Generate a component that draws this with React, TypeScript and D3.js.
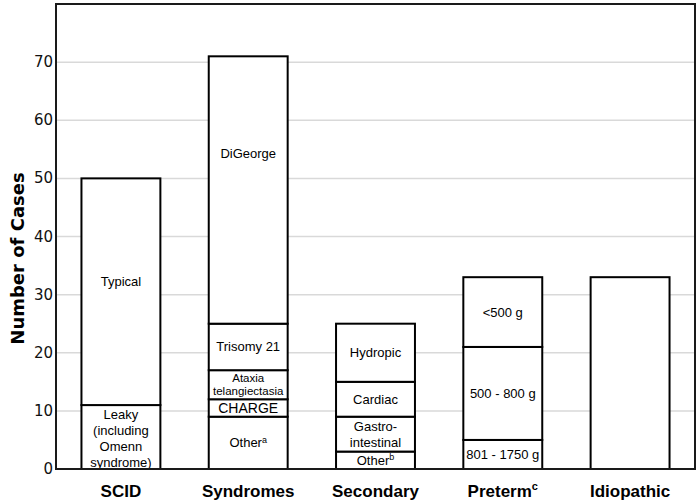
import * as d3 from "d3";

// categories on the x axis
const categories = ["SCID", "Syndromes", "Secondary", "Preterm", "Idiopathic"];
const categorySup = ["", "", "", "c", ""];

// stacked counts per category, bottom to top
const segmentCounts = [
  [11, 39],
  [9, 3, 5, 8, 46],
  [3, 6, 6, 10],
  [5, 16, 12],
  [33],
];

// text inside each segment, bottom to top (lines; "^x" = superscript)
const segmentLabels = [
  [["Leaky", "(including", "Omenn", "syndrome)"], ["Typical"]],
  [["Other^a"], ["CHARGE"], ["Ataxia", "telangiectasia"], ["Trisomy 21"], ["DiGeorge"]],
  [["Other^b"], ["Gastro-", "intestinal"], ["Cardiac"], ["Hydropic"]],
  [["801 - 1750 g"], ["500 - 800 g"], ["<500 g"]],
  [[]],
];

// where a label sits when it is not centred in its segment (in cases)
const labelAt: Record<string, number> = { Typical: 32.2, DiGeorge: 54.3, Leaky: 5.3 };

const yTicks = [0, 10, 20, 30, 40, 50, 60, 70];

const W = 700;
const H = 500;
const left = 56;
const right = 695;
const top = 4;
const bottom = 469;

const x = d3.scaleBand<string>().domain(categories).range([left, right]).paddingInner(0.38).paddingOuter(0.2);
const y = d3.scaleLinear().domain([0, 80]).range([bottom, top]);

const textFont = "'Liberation Sans', Arial, sans-serif";

function Label({ lines, cx, cy }: { lines: string[]; cx: number; cy: number }) {
  if (!lines.length) return null;
  const small = lines[0] === "Ataxia";
  const big = lines[0] === "CHARGE";
  const size = small ? 11.5 : big ? 14 : 13;
  const lh = small ? 12.5 : 16;
  const start = cy - ((lines.length - 1) * lh) / 2;
  return (
    <text fontFamily={textFont} fontSize={size} textAnchor="middle" fill="#000">
      {lines.map((ln, i) => {
        const [main, sup] = ln.split("^");
        return (
          <tspan key={i} x={cx} y={start + i * lh} dominantBaseline="central">
            {main}
            {sup && (
              <tspan fontSize={9} dy={-3}>
                {sup}
              </tspan>
            )}
          </tspan>
        );
      })}
    </text>
  );
}

export default function App() {
  return (
    <svg width={W} height={H} style={{ display: "block", position: "absolute", left: 0, top: 0, background: "#fff" }}>
      {/* gridlines */}
      {yTicks.slice(1).map((t) => (
        <line key={t} x1={left} x2={right} y1={y(t)} y2={y(t)} stroke="#d9d9d9" strokeWidth={1.5} />
      ))}

      {/* bars */}
      {categories.map((c, ci) => {
        const counts = segmentCounts[ci];
        const ends = d3.cumsum(counts);
        const bx = x(c)!;
        const bw = x.bandwidth();
        return (
          <g key={c}>
            {counts.map((v, si) => {
              const y0 = ends[si] - v;
              const y1 = ends[si];
              const lines = segmentLabels[ci][si] || [];
              const key = lines[0];
              const mid = key && labelAt[key] !== undefined ? labelAt[key] : (y0 + y1) / 2;
              return (
                <g key={si}>
                  <rect x={bx} y={y(y1)} width={bw} height={y(y0) - y(y1)} fill="#fff" stroke="#000" strokeWidth={2} />
                  <Label lines={lines} cx={bx + bw / 2} cy={y(mid)} />
                </g>
              );
            })}
            <text
              x={bx + bw / 2}
              y={y(0) + 22}
              textAnchor="middle"
              dominantBaseline="central"
              fontFamily={textFont}
              fontWeight="bold"
              fontSize={17}
            >
              {c}
              {categorySup[ci] && (
                <tspan fontSize={11} dy={-5}>
                  {categorySup[ci]}
                </tspan>
              )}
            </text>
          </g>
        );
      })}

      {/* frame */}
      <rect x={left} y={top} width={right - left} height={bottom - top} fill="none" stroke="#1a1a1a" strokeWidth={2} />

      {/* y ticks */}
      {yTicks.map((t) => (
        <text
          key={t}
          x={left - 3}
          y={y(t)}
          textAnchor="end"
          dominantBaseline="central"
          fontFamily="'DejaVu Sans', sans-serif"
          fontSize={15}
          fill="#111"
        >
          {t}
        </text>
      ))}

      <text
        transform={`translate(17,${(top + bottom) / 2 + 22}) rotate(-90)`}
        textAnchor="middle"
        dominantBaseline="central"
        fontFamily="'DejaVu Sans', sans-serif"
        fontWeight="bold"
        fontSize={18}
      >
        Number of Cases
      </text>
    </svg>
  );
}
